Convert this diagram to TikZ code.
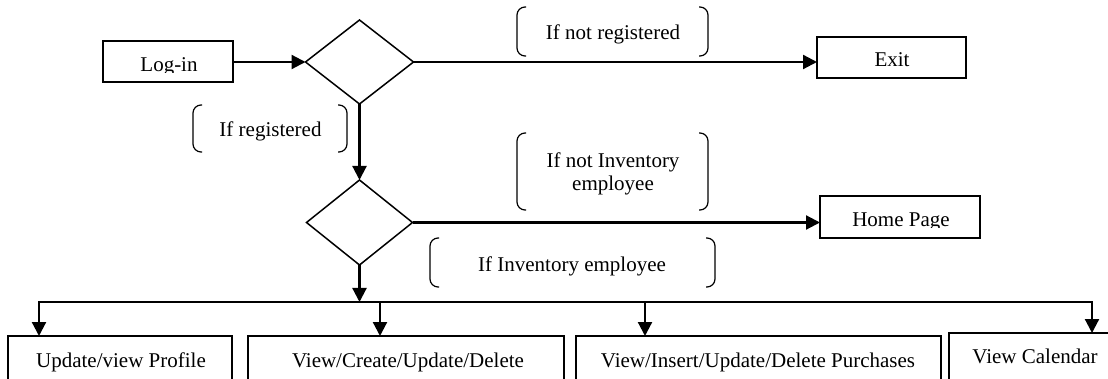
\documentclass[tikz,border=0pt]{standalone}
\usepackage{fontspec}
\setmainfont{Liberation Serif}
\usetikzlibrary{arrows.meta,shapes.geometric,calc}

\tikzset{
  txt/.style={inner sep=0pt,anchor=base,font=\fontsize{21pt}{24pt}\selectfont},
  box/.style={draw,line width=2pt,inner sep=0pt,outer sep=0pt},
  decision/.style={diamond,draw,line width=1.5pt,inner sep=0pt,outer sep=0pt},
  cond/.style={inner sep=0pt,outer sep=0pt},
  brk/.style={line width=1.2pt,rounded corners=8pt},
  conn/.style={line width=2.2pt},
  arr/.style={conn,-{Triangle[length=14pt,width=14pt]}},
  dblarr/.style={conn,{Triangle[length=14pt,width=14pt]}-{Triangle[length=14pt,width=14pt]}},
}

% rounded brackets on both sides of a condition node
\newcommand\condbrackets[1]{%
  \draw[brk] ([xshift=9pt]#1.north west) -- (#1.north west) -- (#1.south west) -- ([xshift=9pt]#1.south west);
  \draw[brk] ([xshift=-9pt]#1.north east) -- (#1.north east) -- (#1.south east) -- ([xshift=-9pt]#1.south east);}

\begin{document}
\begin{tikzpicture}[x=1pt,y=-1pt]
\useasboundingbox (0,0) rectangle (1108,379);
\clip (0,0) rectangle (1108,379);

% top row: log-in, registration check, exit
\node[box,minimum width=130pt,minimum height=41pt] (login) at (168,62) {};
\begin{scope}
  \clip (login.north west) rectangle ($(login.east)+(0,10.5)$);
  \node[txt] (tlogin) at (169,72) {Log-in};
\end{scope}
\node[decision,minimum width=108pt,minimum height=84pt] (d1) at (359.5,62) {};
\node[box,minimum width=149pt,minimum height=41pt] (exit) at (891.5,57.5) {};
\node[txt] (texit) at (892,67) {Exit};

% second row: employee check, home page
\node[decision,minimum width=106pt,minimum height=85pt] (d2) at (359.5,222.5) {};
\node[box,minimum width=160pt,minimum height=42pt] (home) at (900,217) {};
\begin{scope}
  \clip (home.north west) rectangle ($(home.east)+(0,11)$);
  \node[txt] (thome) at (901,227) {Home Page};
\end{scope}

% bottom row of actions
\node[box,minimum width=224pt,minimum height=64pt] (b1) at (120,368) {};
\node[txt] (tb1) at (121,367) {Update/view Profile};
\node[box,minimum width=316pt,minimum height=64pt] (b2) at (406,368) {};
\node[txt] (tb2) at (408,367) {View/Create/Update/Delete};
\node[box,minimum width=365pt,minimum height=64pt] (b3) at (758.5,368) {};
\node[txt] (tb3) at (758,367) {View/Insert/Update/Delete Purchases};
\node[box,minimum width=170pt,minimum height=70pt] (b4) at (1034,368) {};
\node[txt] (tb4) at (1035,363) {View Calendar};

% condition labels
\node[cond,minimum width=191pt,minimum height=49pt] (cnreg) at (612.5,31.5) {};
\condbrackets{cnreg}
\node[txt] (tnreg) at (613,40) {If not registered};

\node[cond,minimum width=154pt,minimum height=47pt] (creg) at (270,128.5) {};
\condbrackets{creg}
\node[txt] (treg) at (270.5,137) {If registered};

\node[cond,minimum width=191pt,minimum height=77pt] (cninv) at (612.5,171.5) {};
\condbrackets{cninv}
\node[txt] (tninv1) at (613,168) {If not Inventory};
\node[txt] (tninv2) at (613,191) {employee};

\node[cond,minimum width=285pt,minimum height=49pt] (cinv) at (572.5,262.5) {};
\condbrackets{cinv}
\node[txt] (tinv) at (572,272) {If Inventory employee};

% connectors
\draw[arr] (login.east) -- (d1.west);
\draw[arr] (d1.east) -- (d1.east -| exit.west);
\draw[arr] (d1.south) -- (d2.north);
\draw[arr] (d2.east) -- (d2.east -| home.west);

\coordinate (t0) at (359.5,302);
\coordinate (t1) at (39,302);
\coordinate (t2) at (380,302);
\coordinate (t3) at (645,302);
\coordinate (t4) at (1092,302);
\draw[arr] (d2.south) -- (t0);
\draw[dblarr] (t1 |- b1.north) -- (t1) -- (t4) -- (t4 |- b4.north);
\draw[arr] (t2) -- (t2 |- b2.north);
\draw[arr] (t3) -- (t3 |- b3.north);
\end{tikzpicture}
\end{document}
